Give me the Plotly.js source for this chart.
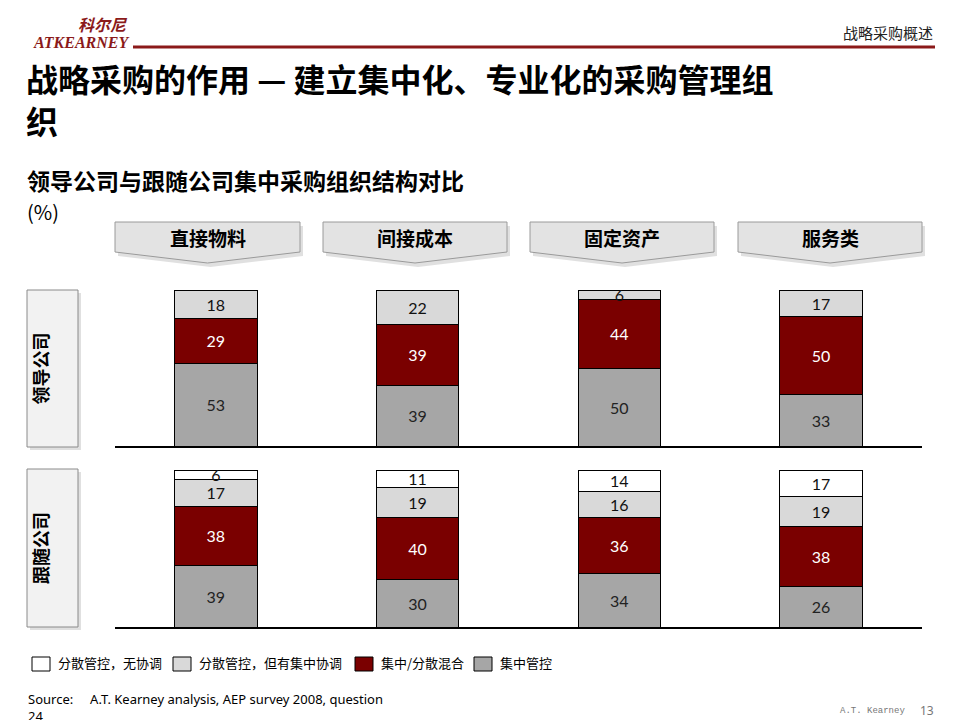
<!DOCTYPE html>
<html>
<head>
<meta charset="utf-8">
<script src="https://cdn.plot.ly/plotly-3.0.1.min.js"></script>
<style>html,body{margin:0;padding:0;background:#fff;}#chart{width:960px;height:720px;}</style>
</head>
<body>
<div id="chart"></div>
<script>
// ---- data ----
const categories = ['直接物料', '间接成本', '固定资产', '服务类'];
const seriesNames = ['集中管控', '集中/分散混合', '分散管控，但有集中协调', '分散管控，无协调'];
const leaderCentral = [53, 39, 50, 33];
const leaderMixed = [29, 39, 44, 50];
const leaderCoord = [18, 22, 6, 17];
const leaderNone = [0, 0, 0, 0];
const followerCentral = [39, 30, 34, 26];
const followerMixed = [38, 40, 36, 38];
const followerCoord = [17, 19, 16, 19];
const followerNone = [6, 11, 14, 17];
const panelLabels = ['领导公司', '跟随公司'];
const legendLabels = ['分散管控，无协调', '分散管控，但有集中协调', '集中/分散混合', '集中管控'];

// ---- styles ----
const W = 960, H = 720;
const px = x => x / W;
const py = y => 1 - y / H;
const colors = ['#a6a6a6', '#7a0000', '#d9d9d9', '#ffffff'];
const textColors = ['#222222', '#ffffff', '#111111', '#111111'];
const CJK = '"Noto Sans CJK SC", "Noto Sans", sans-serif';
const NUM = 'Lato, "Open Sans", sans-serif';

function mk(vals, i, xa, ya) {
  return {
    type: 'bar', x: categories, y: vals, name: seriesNames[i],
    xaxis: xa, yaxis: ya,
    marker: {color: colors[i], line: {color: '#000', width: 1}},
    width: 0.41,
    text: vals.map(v => v > 0 ? String(v) : ''),
    textposition: 'inside', insidetextanchor: 'middle', constraintext: 'none', textangle: 0,
    textfont: {family: NUM, size: 16, color: textColors[i]},
    hoverinfo: 'skip', showlegend: false, cliponaxis: false
  };
}
const data = [
  mk(leaderCentral, 0, 'x', 'y'), mk(leaderMixed, 1, 'x', 'y'), mk(leaderCoord, 2, 'x', 'y'), mk(leaderNone, 3, 'x', 'y'),
  mk(followerCentral, 0, 'x2', 'y2'), mk(followerMixed, 1, 'x2', 'y2'), mk(followerCoord, 2, 'x2', 'y2'), mk(followerNone, 3, 'x2', 'y2')
].filter(t => t.y.some(v => v > 0));

const xBase = {range: [-0.5, 3.5], domain: [px(115), px(922)], showticklabels: false, ticks: '', showgrid: false, zeroline: false,
  showline: true, linecolor: '#000', linewidth: 1.5, fixedrange: true};
const yBase = {range: [0, 100], showticklabels: false, showgrid: false, zeroline: false, showline: false, ticks: '', fixedrange: true};

const shapes = [];
const annotations = [];
function ann(text, x, y, opts) {
  annotations.push(Object.assign({xref: 'paper', yref: 'paper', x: px(x), y: py(y), text: text, showarrow: false,
    xanchor: 'left', yanchor: 'middle', align: 'left', font: {family: CJK, size: 13, color: '#000'}}, opts || {}));
}
function rect(x0, y0, x1, y1, fill, line, lw) {
  shapes.push({type: 'rect', xref: 'paper', yref: 'paper', x0: px(x0), x1: px(x1), y0: py(y1), y1: py(y0),
    fillcolor: fill, line: {color: line || 'rgba(0,0,0,0)', width: lw === undefined ? 1 : lw}, layer: 'below'});
}
function path(pts, fill, line, lw) {
  const d = pts.map((p, i) => (i ? 'L' : 'M') + px(p[0]) + ',' + py(p[1])).join(' ') + ' Z';
  shapes.push({type: 'path', xref: 'paper', yref: 'paper', path: d, fillcolor: fill,
    line: {color: line || 'rgba(0,0,0,0)', width: lw === undefined ? 1 : lw}, layer: 'below'});
}

// header
ann('<i><b>科尔尼</b></i>', 130, 24, {xanchor: 'right', font: {family: CJK, size: 16, color: '#8b1a1a'}});
ann('<i><b>ATKEARNEY</b></i>', 131, 42, {xanchor: 'right', font: {family: '"Liberation Serif", serif', size: 16, color: '#8b1a1a'}});
shapes.push({type: 'line', xref: 'paper', yref: 'paper', x0: px(133), x1: px(935), y0: py(47), y1: py(47), line: {color: '#8b1a1a', width: 3}});
ann('战略采购概述', 935, 33, {xanchor: 'right', font: {family: CJK, size: 15, color: '#222'}});

// titles
ann('<b>战略采购的作用 — 建立集中化、专业化的采购管理组<br>织</b>', 24, 99, {font: {family: CJK, size: 32, color: '#000'}});
ann('<b>领导公司与跟随公司集中采购组织结构对比</b><br><span style="font-size:20px">(%)</span>', 25, 195, {font: {family: CJK, size: 23, color: '#000'}});

// category tabs
const tabs = [[115, 300], [323, 507], [530, 714], [738, 922]];
tabs.forEach((t, i) => {
  const c = (t[0] + t[1]) / 2;
  path([[t[0] + 3, 226], [t[1] + 3, 226], [t[1] + 3, 256], [c + 3, 267], [t[0] + 3, 256]], 'rgba(0,0,0,0.12)');
  path([[t[0], 222], [t[1], 222], [t[1], 252], [c, 263], [t[0], 252]], '#e3e3e3', '#9a9a9a', 1);
  ann('<b>' + categories[i] + '</b>', c, 238, {xanchor: 'center', font: {family: CJK, size: 19, color: '#000'}});
});

// panel label boxes
[[290, 447], [469, 627]].forEach((b, i) => {
  rect(30, b[0] + 3, 81, b[1] + 3, 'rgba(0,0,0,0.12)');
  rect(27, b[0], 78, b[1], '#f2f2f2', '#8a8a8a', 1);
  ann('<b>' + panelLabels[i] + '</b>', 40, (b[0] + b[1]) / 2, {xanchor: 'center', textangle: -90, font: {family: CJK, size: 18, color: '#000'}});
});

// legend
const legColors = [colors[3], colors[2], colors[1], colors[0]];
const legBoxes = [32, 173, 355, 474];
legBoxes.forEach((x, i) => {
  rect(x, 657, x + 18, 671, legColors[i], '#000', 1);
  ann(legendLabels[i], x + 24, 662, {font: {family: CJK, size: 13, color: '#000'}});
});

// source & footer
ann('Source:&nbsp;&nbsp;&nbsp;&nbsp; A.T. Kearney analysis, AEP survey 2008, question<br>24', 26, 707, {font: {family: '"Noto Sans", sans-serif', size: 13, color: '#000'}});
ann('A.T. Kearney', 907, 711, {xanchor: 'right', font: {family: '"Liberation Mono", monospace', size: 9, color: '#777'}});
ann('13', 936, 710, {xanchor: 'right', font: {family: '"Noto Sans", sans-serif', size: 12, color: '#777'}});

const layout = {
  width: W, height: H, margin: {l: 0, r: 0, t: 0, b: 0}, paper_bgcolor: '#fff', plot_bgcolor: 'rgba(0,0,0,0)',
  barmode: 'stack', showlegend: false,
  xaxis: Object.assign({}, xBase, {anchor: 'y'}),
  yaxis: Object.assign({}, yBase, {domain: [py(446), py(290)], anchor: 'x'}),
  xaxis2: Object.assign({}, xBase, {anchor: 'y2'}),
  yaxis2: Object.assign({}, yBase, {domain: [py(627), py(470)], anchor: 'x2'}),
  shapes: shapes, annotations: annotations
};
Plotly.newPlot('chart', data, layout, {displayModeBar: false, staticPlot: true});
</script>
</body>
</html>
